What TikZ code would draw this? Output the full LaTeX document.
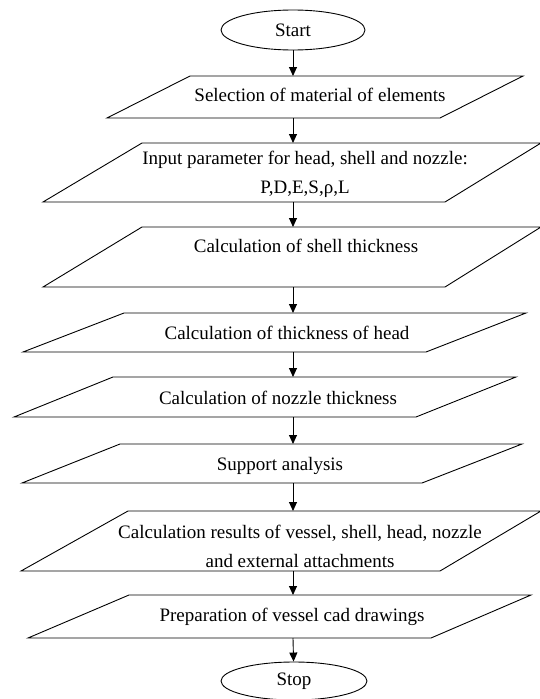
\documentclass[tikz,border=0pt]{standalone}
\usepackage{fontspec}
\setmainfont{Liberation Serif}
\usetikzlibrary{arrows.meta, shapes.geometric}

\begin{document}
\begin{tikzpicture} [%
    x = 1pt,
    y = -1pt,
    line width = 0.9pt,
    >= {Triangle[length=9pt, width=8pt]},
    font = \fontsize{19}{29}\selectfont,
    terminal/.style = {%
      ellipse,
      draw,
      minimum width = 144pt,
      minimum height = 40pt,
      inner sep = 0pt },
    io/.style = {draw, line join = miter},
    caption/.style = {%
      align = center,
      inner sep = 0pt,
      text height = 13pt,
      text depth = 4pt }
  ]

  \useasboundingbox (0,0) rectangle (540,699);

  \node[terminal] (S) at (293,30) {Start};

  % input / process boxes
  \draw[io] (190,76) -- (523,76) -- (440,118) -- (107,118) -- cycle;
  \coordinate (P1n) at (293,76);
  \coordinate (P1s) at (293,118);
  \node[caption] (P1) at (320,97) {Selection of material of elements};

  \draw[io] (142,143) -- (541,143) -- (445,202) -- (43,202) -- cycle;
  \coordinate (P2n) at (293,143);
  \coordinate (P2s) at (293,202);
  \node[caption] (P2) at (305,189) {Input parameter for head, shell and nozzle:\\P,D,E,S,ρ,L};

  \draw[io] (142,227) -- (541,227) -- (445,287) -- (43,287) -- cycle;
  \coordinate (P3n) at (293,227);
  \coordinate (P3s) at (293,287);
  \node[caption] (P3) at (306,248) {Calculation of shell thickness};

  \draw[io] (124,313) -- (526,313) -- (426,352) -- (23,352) -- cycle;
  \coordinate (P4n) at (293,313);
  \coordinate (P4s) at (293,352);
  \node[caption] (P4) at (287,335) {Calculation of thickness of head};

  \draw[io] (113,377) -- (516,377) -- (416,417) -- (14,417) -- cycle;
  \coordinate (P5n) at (293,377);
  \coordinate (P5s) at (293,417);
  \node[caption] (P5) at (278,400) {Calculation of nozzle thickness};

  \draw[io] (120,444) -- (522,444) -- (422,483) -- (22,483) -- cycle;
  \coordinate (P6n) at (293,444);
  \coordinate (P6s) at (293,483);
  \node[caption] (P6) at (280,466) {Support analysis};

  \draw[io] (128,511) -- (541,511) -- (440,571) -- (21,571) -- cycle;
  \coordinate (P7n) at (293,511);
  \coordinate (P7s) at (293,571);
  \node[caption] (P7) at (300,563) {Calculation results of vessel, shell, head, nozzle\\and external attachments};

  \draw[io] (129,595) -- (531,595) -- (431,638) -- (28,638) -- cycle;
  \coordinate (P8n) at (293,595);
  \coordinate (P8s) at (293,638);
  \node[caption] (P8) at (292,617) {Preparation of vessel cad drawings};

  \node[terminal, minimum width=146pt, minimum height=38pt] (E) at (294,681) {Stop};

  \path[->]
  (S) edge (P1n)
  (P1s) edge (P2n)
  (P2s) edge (P3n)
  (P3s) edge (P4n)
  (P4s) edge (P5n)
  (P5s) edge (P6n)
  (P6s) edge (P7n)
  (P7s) edge (P8n)
  (P8s) edge (E);

\end{tikzpicture}
\end{document}
